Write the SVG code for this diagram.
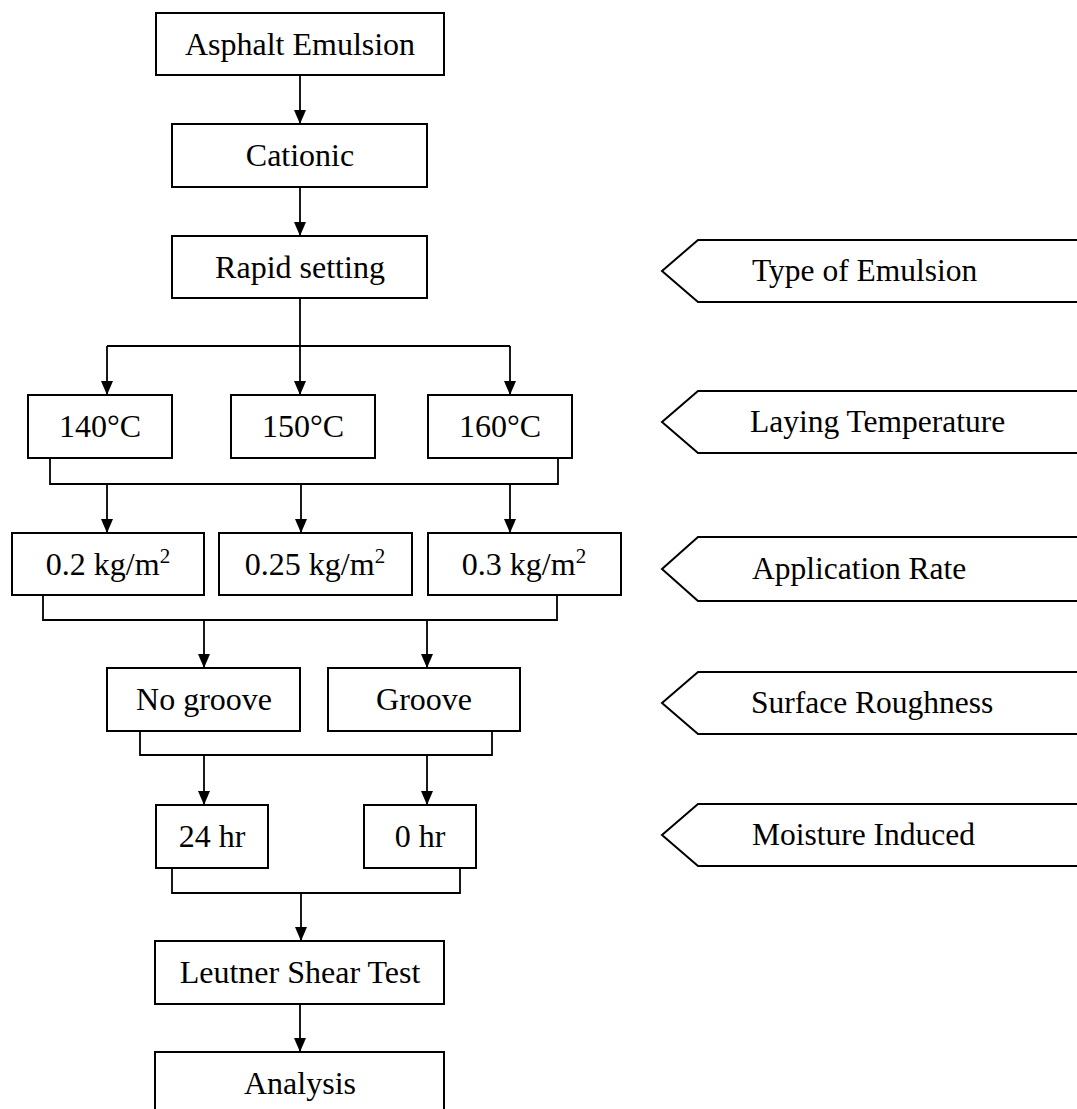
<svg xmlns="http://www.w3.org/2000/svg" width="1077" height="1109" viewBox="0 0 1077 1109">
<style>
.box{fill:#fff;stroke:#000;stroke-width:2}
.tag{fill:#fff;stroke:#000;stroke-width:2}
.t{font-family:"Liberation Serif","Times New Roman",serif;font-size:32px;fill:#000;text-anchor:middle}
.tl{font-family:"Liberation Serif","Times New Roman",serif;font-size:31.5px;fill:#000;text-anchor:start}
.c{fill:none;stroke:#000;stroke-width:1.8}
.sup{font-size:21px}
</style>
<defs>
<marker id="ah" markerUnits="userSpaceOnUse" markerWidth="14" markerHeight="12" refX="14" refY="6" orient="auto">
<path d="M0,0 L14,6 L0,12 z" fill="#000"/>
</marker>
</defs>
<rect width="1077" height="1109" fill="#fff"/>
<g id="connectors">
<line class="c" x1="300" y1="75" x2="300" y2="124" marker-end="url(#ah)"/>
<line class="c" x1="300" y1="187" x2="300" y2="236" marker-end="url(#ah)"/>
<line class="c" x1="300" y1="298" x2="300" y2="346"/>
<line class="c" x1="107" y1="346" x2="510" y2="346"/>
<line class="c" x1="107" y1="346" x2="107" y2="395" marker-end="url(#ah)"/>
<line class="c" x1="300" y1="346" x2="300" y2="395" marker-end="url(#ah)"/>
<line class="c" x1="510" y1="346" x2="510" y2="395" marker-end="url(#ah)"/>
<polyline class="c" points="50,458 50,484 558,484 558,458"/>
<line class="c" x1="107" y1="484" x2="107" y2="533" marker-end="url(#ah)"/>
<line class="c" x1="301" y1="484" x2="301" y2="533" marker-end="url(#ah)"/>
<line class="c" x1="510" y1="484" x2="510" y2="533" marker-end="url(#ah)"/>
<polyline class="c" points="43,595 43,620 557,620 557,595"/>
<line class="c" x1="204" y1="620" x2="204" y2="668" marker-end="url(#ah)"/>
<line class="c" x1="427" y1="620" x2="427" y2="668" marker-end="url(#ah)"/>
<polyline class="c" points="140,731 140,755 492,755 492,731"/>
<line class="c" x1="204" y1="755" x2="204" y2="805" marker-end="url(#ah)"/>
<line class="c" x1="427" y1="755" x2="427" y2="805" marker-end="url(#ah)"/>
<polyline class="c" points="172,868 172,893 460,893 460,868"/>
<line class="c" x1="301" y1="893" x2="301" y2="941" marker-end="url(#ah)"/>
<line class="c" x1="300" y1="1004" x2="300" y2="1052" marker-end="url(#ah)"/>
</g>
<g id="n-asphalt"><rect class="box" x="156" y="13" width="288" height="62"/><text class="t" x="300" y="55">Asphalt Emulsion</text></g>
<g id="n-cationic"><rect class="box" x="172" y="124" width="255" height="63"/><text class="t" x="300" y="166">Cationic</text></g>
<g id="n-rapid"><rect class="box" x="172" y="236" width="255" height="62"/><text class="t" x="300" y="278">Rapid setting</text></g>
<g id="n-140"><rect class="box" x="28" y="395" width="144" height="63"/><text class="t" x="100" y="437">140°C</text></g>
<g id="n-150"><rect class="box" x="231" y="395" width="144" height="63"/><text class="t" x="303" y="437">150°C</text></g>
<g id="n-160"><rect class="box" x="428" y="395" width="144" height="63"/><text class="t" x="500" y="437">160°C</text></g>
<g id="n-02"><rect class="box" x="12" y="533" width="192" height="62"/><text class="t" x="108" y="575">0.2 kg/m<tspan class="sup" dy="-12">2</tspan></text></g>
<g id="n-025"><rect class="box" x="219" y="533" width="193" height="62"/><text class="t" x="315" y="575">0.25 kg/m<tspan class="sup" dy="-12">2</tspan></text></g>
<g id="n-03"><rect class="box" x="428" y="533" width="193" height="62"/><text class="t" x="524" y="575">0.3 kg/m<tspan class="sup" dy="-12">2</tspan></text></g>
<g id="n-nogroove"><rect class="box" x="107" y="668" width="193" height="63"/><text class="t" x="204" y="710">No groove</text></g>
<g id="n-groove"><rect class="box" x="328" y="668" width="192" height="63"/><text class="t" x="424" y="710">Groove</text></g>
<g id="n-24"><rect class="box" x="156" y="805" width="112" height="63"/><text class="t" x="212" y="847">24 hr</text></g>
<g id="n-0"><rect class="box" x="364" y="805" width="112" height="63"/><text class="t" x="420" y="847">0 hr</text></g>
<g id="n-leutner"><rect class="box" x="155" y="941" width="289" height="63"/><text class="t" x="300" y="983">Leutner Shear Test</text></g>
<g id="n-analysis"><rect class="box" x="155" y="1052" width="289" height="63"/><text class="t" x="300" y="1094">Analysis</text></g>
<g id="tag-type"><polygon class="tag" points="1090,240 698,240 662,271 698,302 1090,302"/><text class="tl" x="752" y="281">Type of Emulsion</text></g>
<g id="tag-temp"><polygon class="tag" points="1090,391 698,391 662,422 698,453 1090,453"/><text class="tl" x="750" y="432">Laying Temperature</text></g>
<g id="tag-rate"><polygon class="tag" points="1090,537 698,537 662,569 698,601 1090,601"/><text class="tl" x="752" y="579">Application Rate</text></g>
<g id="tag-rough"><polygon class="tag" points="1090,672 698,672 662,703 698,734 1090,734"/><text class="tl" x="751" y="713">Surface Roughness</text></g>
<g id="tag-moist"><polygon class="tag" points="1090,804 698,804 662,835 698,866 1090,866"/><text class="tl" x="752" y="845">Moisture Induced</text></g>
</svg>
